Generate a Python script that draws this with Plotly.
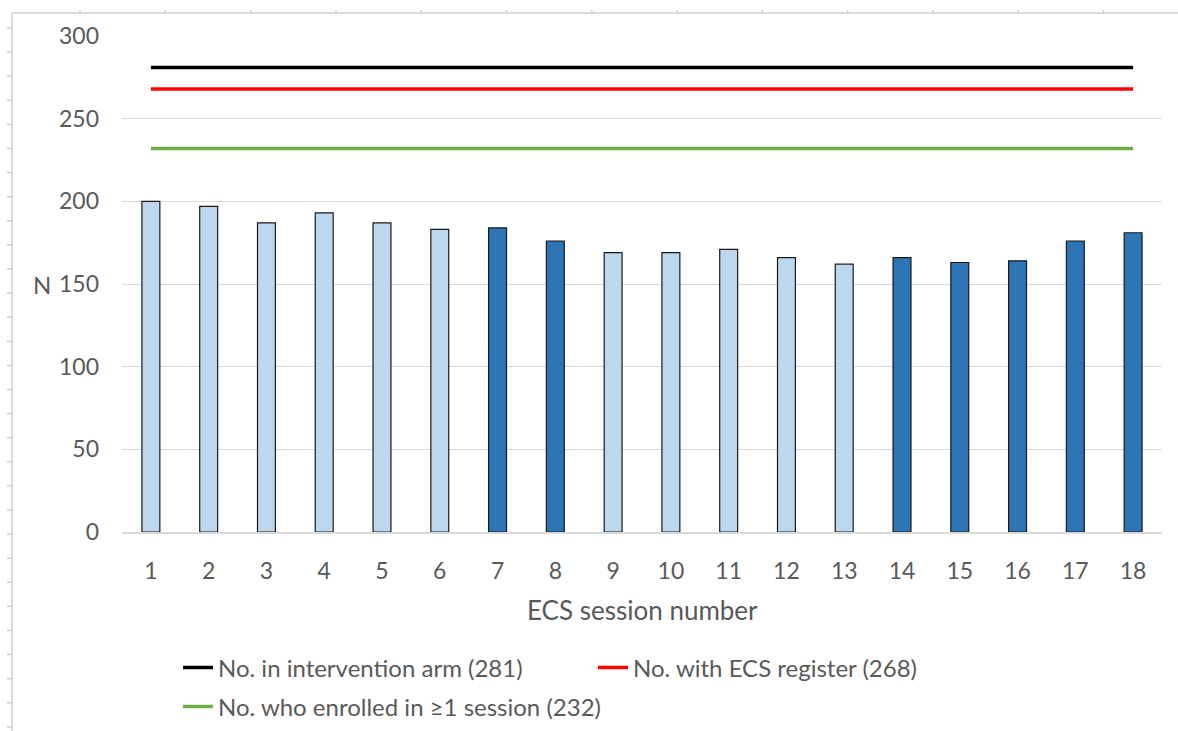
import plotly.graph_objects as go

# ECS attendance per session
sessions = list(range(1, 19))
attendance = [200, 197, 187, 193, 187, 183, 184, 176, 169, 169,
              171, 166, 162, 166, 163, 164, 176, 181]
session_type = ["light"] * 6 + ["dark"] * 2 + ["light"] * 5 + ["dark"] * 5

# Reference totals drawn as horizontal lines
totals = [
    ("No. in intervention arm (281)", 281, "#000000", "legend"),
    ("No. with ECS register (268)", 268, "#FF0000", "legend"),
    ("No. who enrolled in \u22651 session (232)", 232, "#70AD47", "legend2"),
]

y_ticks = [0, 50, 100, 150, 200, 250, 300]

W, H = 1178, 731
ML, MR, MT, MB = 122, 16, 36, 199
FONT = "Lato, 'Open Sans', sans-serif"
GREY = "#595959"

pw, ph = W - ML - MR, H - MT - MB
def px(xp):
    return (xp - ML) / pw
def py(yp):
    return (H - MB - yp) / ph

palette = {"light": "#BDD7EE", "dark": "#2E75B6"}

fig = go.Figure()
fig.add_trace(go.Bar(
    x=sessions, y=attendance,
    marker=dict(color=[palette[t] for t in session_type],
                line=dict(color="#1a1a1a", width=1.2)),
    width=0.31, showlegend=False,
))
for name, value, color, leg in totals:
    fig.add_trace(go.Scatter(
        x=[sessions[0], sessions[-1]], y=[value, value],
        mode="lines", name=name, legend=leg,
        line=dict(color=color, width=3.5),
    ))

legend_common = dict(orientation="h", xanchor="left", yanchor="middle",
                     itemwidth=30, font=dict(size=24, color=GREY),
                     bgcolor="rgba(0,0,0,0)")

fig.update_layout(
    width=W, height=H,
    margin=dict(l=ML, r=MR, t=MT, b=MB, autoexpand=False),
    paper_bgcolor="white", plot_bgcolor="white",
    font=dict(family=FONT, color=GREY, size=23),
    legend=dict(x=px(178), y=py(668), entrywidth=370, **legend_common),
    legend2=dict(x=px(178), y=py(707), **legend_common),
    xaxis=dict(range=[0.5, 18.5], tickmode="array", tickvals=sessions,
               ticktext=[str(s) for s in sessions],
               showgrid=False, showline=True, linecolor="#D9D9D9", linewidth=1.5,
               ticks="", ticklabelstandoff=18,
               tickfont=dict(size=23, color=GREY), zeroline=False),
    yaxis=dict(range=[0, 300], tickmode="array", tickvals=y_ticks,
               showgrid=True, gridcolor="#D9D9D9", gridwidth=1.3,
               showline=False, zeroline=False, ticks="",
               ticklabelstandoff=22,
               tickfont=dict(size=23, color=GREY)),
    bargap=0.6,
)

# Axis titles
fig.add_annotation(text="ECS session number", xref="paper", yref="paper",
                   x=px(642), y=py(610),
                   showarrow=False, font=dict(size=26, color=GREY),
                   xanchor="center", yanchor="middle")
fig.add_annotation(text="N", xref="paper", yref="paper",
                   x=px(42), y=py(284),
                   showarrow=False, font=dict(size=24, color=GREY),
                   xanchor="center", yanchor="middle")

# Page frame with ruler marks
frame = dict(color="#D0D0D0", width=1.5)
fig.add_shape(type="line", xref="paper", yref="paper",
              x0=px(12), x1=px(W), y0=py(13), y1=py(13), line=frame)
fig.add_shape(type="line", xref="paper", yref="paper",
              x0=px(12), x1=px(12), y0=py(13), y1=py(H), line=frame)
for k in range(14):
    xt = 80 + 85.3 * k
    fig.add_shape(type="line", xref="paper", yref="paper",
                  x0=px(xt), x1=px(xt), y0=py(10), y1=py(13), line=frame)
for k in range(30):
    yt = 28 + 24.1 * k
    if yt > H:
        break
    fig.add_shape(type="line", xref="paper", yref="paper",
                  x0=px(7), x1=px(12), y0=py(yt), y1=py(yt), line=frame)

fig.write_html("out.html")
